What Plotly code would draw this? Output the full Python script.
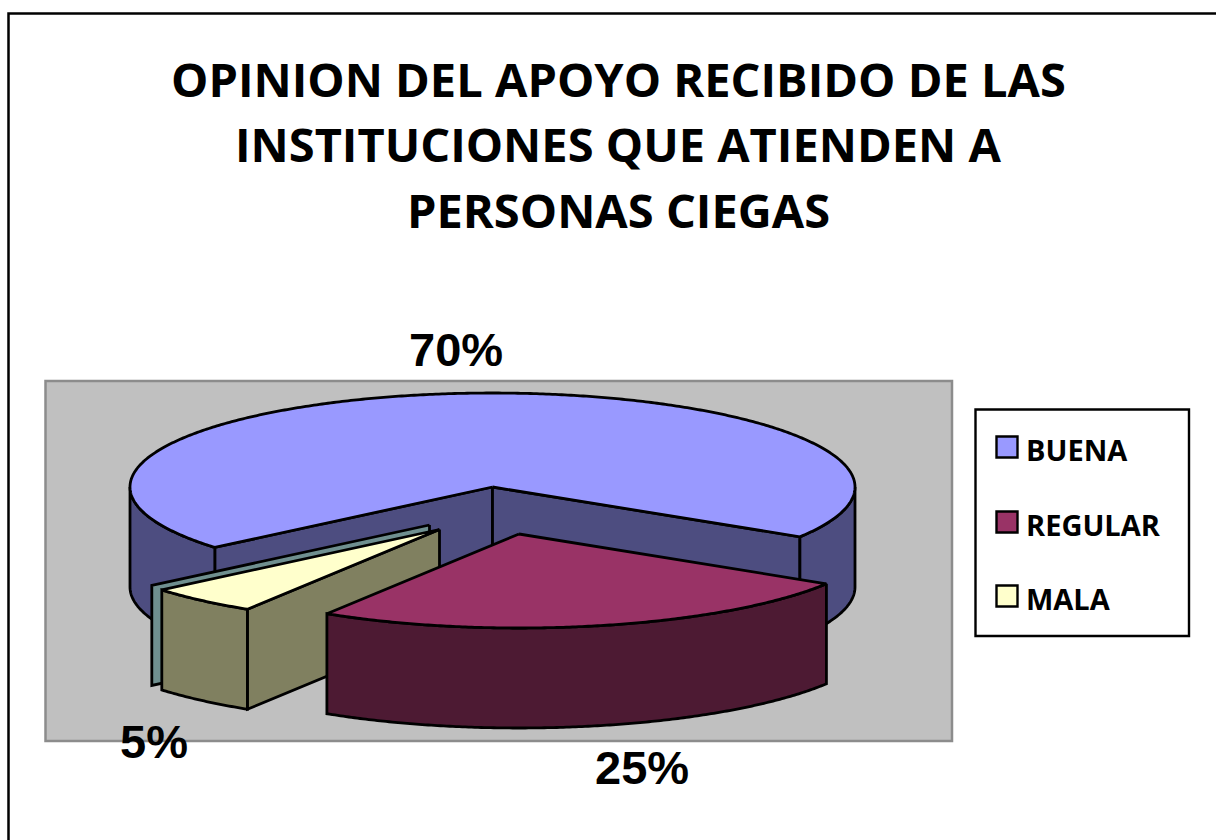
import math
import plotly.graph_objects as go

# ---- data ----
categories = ["BUENA", "REGULAR", "MALA"]
values = [70, 25, 5]
percent_labels = ["70%", "25%", "5%"]
title_lines = ["OPINION DEL APOYO RECIBIDO DE LAS",
               "INSTITUCIONES QUE ATIENDEN A",
               "PERSONAS CIEGAS"]

# ---- style ----
top_colors = ["#9999ff", "#993366", "#ffffcc"]
side_colors = ["#4d4d80", "#4d1a33", "#808060"]
back_wall_color = "#6f8f8f"
explode = [(0, 0), (26.5, 47), (-53, 42.5)]
label_pos = [(456, 349), (642, 767), (154, 741)]
CX, CY, RX, RY, DEPTH = 492.5, 487, 362.5, 94, 100
START = 230
LW = 2.8

fig = go.Figure()


def poly(xs, ys, fill):
    fig.add_trace(go.Scatter(
        x=list(xs) + [xs[0]], y=list(ys) + [ys[0]], mode="lines", fill="toself",
        fillcolor=fill, line=dict(color="black", width=LW, simplify=False),
        hoverinfo="skip", showlegend=False))


def pt(t, off, dy=0):
    r = math.radians(t)
    return (CX + off[0] + RX * math.sin(r), CY + off[1] + dy - RY * math.cos(r))


def arc(a, b):
    n = max(2, int(abs(b - a) * 2))
    return [a + (b - a) * i / n for i in range(n + 1)]


def outer_wall(a, b, off, color):
    for shift in (0, 360):
        lo, hi = max(a, 90 + shift), min(b, 270 + shift)
        if lo < hi:
            ts = arc(lo, hi)
            up = [pt(t, off) for t in ts]
            down = [pt(t, off, DEPTH) for t in reversed(ts)]
            all_pts = up + down
            poly([p[0] for p in all_pts], [p[1] for p in all_pts], color)


def radial_wall(t, off, color):
    p = pt(t, off)
    c = (CX + off[0], CY + off[1])
    poly([c[0], p[0], p[0], c[0]], [c[1], p[1], p[1] + DEPTH, c[1] + DEPTH], color)


def top(a, b, off, color):
    pts = [(CX + off[0], CY + off[1])] + [pt(t, off) for t in arc(a, b)]
    poly([p[0] for p in pts], [p[1] for p in pts], color)


# slice angles derived from the values
total = sum(values)
angles = []
cur = START
for v in values:
    angles.append((cur, cur + v / total * 360))
    cur += v / total * 360

# plot area panel
fig.add_shape(type="rect", x0=45.5, y0=381, x1=952, y1=741,
              fillcolor="#c0c0c0", line=dict(color="#8c8c8c", width=2.5), layer="below")
# chart outer frame
fig.add_shape(type="path", path="M 8.5 842 L 8.5 13.5 L 1218 13.5",
              line=dict(color="black", width=2.5), layer="below")

# BUENA
a, b = angles[0]
off = explode[0]
radial_wall(a, off, side_colors[0])
radial_wall(b, off, side_colors[0])
outer_wall(a, b, off, side_colors[0])
top(a, b, off, top_colors[0])

# MALA: thin back wall, then walls and top
a, b = angles[2]
off = explode[2]
back_off = (off[0] - 10, off[1] - 4.5)
radial_wall(b, back_off, back_wall_color)
radial_wall(a, off, side_colors[2])
outer_wall(a, b, off, side_colors[2])
top(a, b, off, top_colors[2])

# REGULAR
a, b = angles[1]
off = explode[1]
outer_wall(a, b, off, side_colors[1])
top(a, b, off, top_colors[1])

# title
for line, y in zip(title_lines, [79, 144, 210]):
    fig.add_annotation(x=618, y=y, text=line, showarrow=False, xref="x", yref="y",
                       font=dict(family="Open Sans", size=47, color="black", weight=700))

# percent labels
for lab, (x, y) in zip(percent_labels, label_pos):
    fig.add_annotation(x=x, y=y, text=lab, showarrow=False, xref="x", yref="y",
                       font=dict(family="Liberation Sans", size=47, color="black", weight=700))

# legend box and entries
fig.add_shape(type="rect", x0=975.5, y0=409.5, x1=1189, y1=636,
              fillcolor="white", line=dict(color="black", width=2.4), layer="below")
for cat, col, y in zip(categories, top_colors, [447, 522, 596]):
    fig.add_trace(go.Scatter(
        x=[1007], y=[y], mode="markers",
        marker=dict(symbol="square", size=21, color=col, line=dict(color="black", width=2.4)),
        hoverinfo="skip", showlegend=False))
    fig.add_annotation(x=1024, y=y + 2, text=cat, showarrow=False, xref="x", yref="y", xanchor="left",
                       font=dict(family="Open Sans", size=29, color="black", weight=700))

fig.update_layout(
    width=1216, height=840, margin=dict(l=0, r=0, t=0, b=0),
    paper_bgcolor="white", plot_bgcolor="white", showlegend=False,
    xaxis=dict(range=[0, 1216], visible=False, fixedrange=True),
    yaxis=dict(range=[840, 0], visible=False, fixedrange=True),
)
fig.write_html("out.html", config=dict(displayModeBar=False),
               post_script="document.body.style.margin='0';document.body.style.overflow='hidden';")
